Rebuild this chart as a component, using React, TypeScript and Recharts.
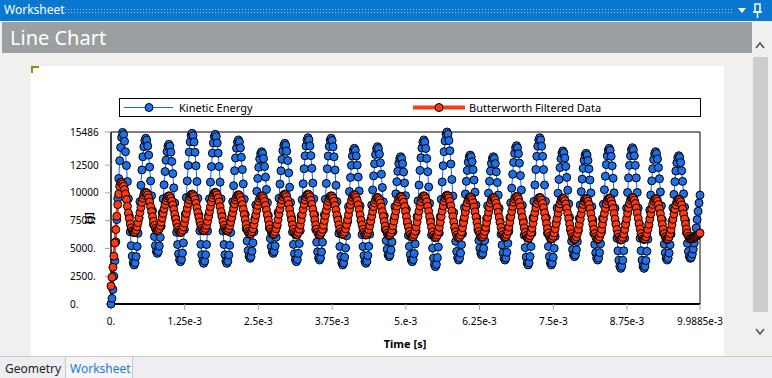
import React from "react";
import {
  LineChart,
  Line,
  XAxis,
  YAxis,
  ReferenceArea,
} from "recharts";

// samples in J, one every T_END / 610 s (rows = half cycles)
const KINETIC_ENERGY = [
  0,
  500, 1300, 2500, 3900, 5600, 7600, 9500, 11300, 12900, 14100, 15000, 15450,
  15247, 14650, 13707, 12465, 11020, 9480, 7940, 6495, 5253, 4310, 3713, 3510,
  3704, 4274, 5176, 6363, 7743, 9215, 10687, 12068, 13254, 14156, 14726, 14920,
  14744, 14226, 13407, 12330, 11076, 9740, 8404, 7150, 6073, 5254, 4736, 4560,
  4727, 5218, 5994, 7015, 8203, 9470, 10737, 11925, 12946, 13722, 14213, 14380,
  14200, 13672, 12837, 11738, 10459, 9095, 7731, 6453, 5353, 4518, 3990, 3810,
  4007, 4585, 5498, 6700, 8099, 9590, 11081, 12480, 13682, 14595, 15173, 15370,
  15171, 14585, 13660, 12443, 11026, 9515, 8004, 6588, 5370, 4445, 3859, 3660,
  3858, 4439, 5357, 6565, 7971, 9470, 10969, 12375, 13583, 14501, 15082, 15280,
  15082, 14501, 13583, 12375, 10969, 9470, 7971, 6565, 5357, 4439, 3858, 3660,
  3849, 4404, 5282, 6438, 7782, 9215, 10648, 11993, 13148, 14026, 14581, 14770,
  14589, 14056, 13214, 12105, 10815, 9440, 8065, 6775, 5666, 4824, 4291, 4110,
  4273, 4753, 5512, 6510, 7672, 8910, 10148, 11310, 12308, 13067, 13547, 13710,
  13554, 13097, 12374, 11423, 10315, 9135, 7955, 6848, 5896, 5173, 4716, 4560,
  4728, 5224, 6007, 7038, 8237, 9515, 10793, 11993, 13023, 13806, 14302, 14470,
  14289, 13756, 12914, 11805, 10515, 9140, 7765, 6475, 5366, 4524, 3991, 3810,
  4000, 4558, 5439, 6600, 7950, 9390, 10830, 12180, 13341, 14222, 14780, 14970,
  14783, 14232, 13363, 12218, 10885, 9465, 8045, 6713, 5567, 4698, 4147, 3960,
  4146, 4694, 5560, 6700, 8026, 9440, 10854, 12180, 13320, 14186, 14734, 14920,
  14726, 14156, 13254, 12068, 10687, 9215, 7743, 6363, 5176, 4274, 3704, 3510,
  3689, 4214, 5044, 6138, 7409, 8765, 10121, 11393, 12486, 13316, 13841, 14020,
  13844, 13326, 12507, 11430, 10176, 8840, 7504, 6250, 5173, 4354, 3836, 3660,
  3839, 4364, 5193, 6285, 7556, 8910, 10265, 11535, 12627, 13457, 13982, 14160,
  13992, 13497, 12715, 11685, 10487, 9210, 7933, 6735, 5705, 4923, 4428, 4260,
  4413, 4863, 5574, 6510, 7599, 8760, 9921, 11010, 11946, 12657, 13107, 13260,
  13099, 12627, 11880, 10898, 9754, 8535, 7316, 6173, 5190, 4443, 3971, 3810,
  3996, 4544, 5410, 6550, 7876, 9290, 10704, 12030, 13170, 14036, 14584, 14770,
  14576, 14006, 13104, 11918, 10537, 9065, 7593, 6213, 5026, 4124, 3554, 3360,
  3566, 4172, 5130, 6392, 7859, 9423, 10987, 12455, 13716, 14674, 15280, 15486,
  15290, 14714, 13803, 12605, 11210, 9723, 8236, 6842, 5643, 4732, 4156, 3960,
  4121, 4593, 5340, 6323, 7466, 8685, 9904, 11048, 12030, 12777, 13249, 13410,
  13257, 12807, 12096, 11160, 10071, 8910, 7749, 6660, 5724, 5013, 4563, 4410,
  4560, 5003, 5702, 6623, 7693, 8835, 9977, 11048, 11968, 12667, 13110, 13260,
  13102, 12637, 11902, 10935, 9810, 8610, 7410, 6285, 5318, 4583, 4118, 3960,
  4135, 4649, 5462, 6533, 7778, 9105, 10432, 11678, 12748, 13561, 14075, 14250,
  14067, 13530, 12682, 11565, 10265, 8880, 7495, 6195, 5078, 4230, 3693, 3510,
  3705, 4278, 5183, 6375, 7762, 9240, 10718, 12105, 13297, 14202, 14775, 14970,
  14775, 14202, 13297, 12105, 10718, 9240, 7762, 6375, 5183, 4278, 3705, 3510,
  3685, 4198, 5009, 6078, 7320, 8645, 9970, 11213, 12281, 13092, 13605, 13780,
  13618, 13142, 12390, 11400, 10248, 9020, 7792, 6640, 5650, 4898, 4422, 4260,
  4418, 4884, 5619, 6588, 7714, 8915, 10116, 11243, 12211, 12946, 13412, 13570,
  13407, 12926, 12167, 11168, 10005, 8765, 7525, 6363, 5363, 4604, 4123, 3960,
  4131, 4634, 5429, 6475, 7692, 8990, 10288, 11505, 12551, 13346, 13849, 14020,
  13836, 13296, 12442, 11318, 10009, 8615, 7221, 5913, 4788, 3934, 3394, 3210,
  3395, 3938, 4796, 5925, 7239, 8640, 10041, 11355, 12484, 13342, 13885, 14070,
  13885, 13342, 12484, 11355, 10041, 8640, 7239, 5925, 4796, 3938, 3395, 3210,
  3389, 3914, 4743, 5835, 7106, 8460, 9815, 11085, 12177, 13007, 13532, 13710,
  13544, 13057, 12287, 11273, 10093, 8835, 7577, 6398, 5384, 4613, 4126, 3960,
  4120, 4589, 5331, 6308, 7444, 8655, 9866, 11003, 11979, 12721, 13190, 13350,
  13193, 12731, 12001, 11040, 9922, 8730, 7538, 6420, 5459, 4729, 4267, 4110,
  4200, 4500, 4950, 5500, 6150, 6850, 7600, 8350, 9100, 9800,
];

const BUTTERWORTH = [
  1620,
  2400, 3300, 4300, 5500, 6700, 7900, 8950, 9900, 10600, 10960, 10950, 10800,
  10600, 10300, 9900, 9400, 8800, 8200, 7700, 7200, 6850, 6600, 6470, 6420,
  6482, 6664, 6951, 7330, 7770, 8240, 8710, 9150, 9529, 9816, 9998, 10060,
  10001, 9826, 9550, 9188, 8765, 8315, 7865, 7443, 7080, 6804, 6629, 6570,
  6624, 6783, 7034, 7365, 7750, 8160, 8570, 8955, 9286, 9537, 9696, 9750,
  9693, 9527, 9264, 8918, 8515, 8085, 7655, 7253, 6906, 6643, 6477, 6420,
  6479, 6653, 6928, 7290, 7711, 8160, 8609, 9030, 9392, 9667, 9841, 9900,
  9843, 9677, 9414, 9068, 8665, 8235, 7805, 7403, 7056, 6793, 6627, 6570,
  6629, 6804, 7080, 7443, 7865, 8315, 8765, 9188, 9550, 9826, 10001, 10060,
  10001, 9826, 9550, 9188, 8765, 8315, 7865, 7443, 7080, 6804, 6629, 6570,
  6626, 6789, 7047, 7388, 7783, 8205, 8627, 9023, 9363, 9621, 9784, 9840,
  9779, 9601, 9319, 8948, 8516, 8055, 7594, 7163, 6791, 6509, 6331, 6270,
  6329, 6503, 6778, 7140, 7561, 8010, 8459, 8880, 9242, 9517, 9691, 9750,
  9691, 9516, 9239, 8875, 8452, 8000, 7549, 7125, 6761, 6485, 6310, 6250,
  6312, 6495, 6783, 7163, 7604, 8075, 8546, 8988, 9367, 9655, 9838, 9900,
  9837, 9652, 9360, 8975, 8527, 8050, 7573, 7125, 6740, 6448, 6263, 6200,
  6263, 6448, 6740, 7125, 7573, 8050, 8527, 8975, 9360, 9652, 9837, 9900,
  9837, 9652, 9360, 8975, 8527, 8050, 7573, 7125, 6740, 6448, 6263, 6200,
  6260, 6438, 6718, 7088, 7517, 7975, 8433, 8863, 9232, 9512, 9690, 9750,
  9691, 9516, 9239, 8875, 8452, 8000, 7549, 7125, 6761, 6485, 6310, 6250,
  6311, 6491, 6774, 7148, 7582, 8045, 8508, 8943, 9316, 9599, 9779, 9840,
  9778, 9596, 9309, 8930, 8490, 8020, 7550, 7110, 6731, 6444, 6262, 6200,
  6258, 6428, 6696, 7050, 7461, 7900, 8339, 8750, 9104, 9372, 9542, 9600,
  9541, 9369, 9096, 8738, 8320, 7875, 7430, 7013, 6654, 6381, 6209, 6150,
  6210, 6388, 6668, 7038, 7467, 7925, 8383, 8813, 9182, 9462, 9640, 9700,
  9637, 9452, 9160, 8775, 8327, 7850, 7373, 6925, 6540, 6248, 6063, 6000,
  6064, 6251, 6548, 6938, 7391, 7875, 8359, 8813, 9203, 9499, 9686, 9750,
  9685, 9495, 9195, 8800, 8340, 7850, 7360, 6900, 6505, 6205, 6015, 5950,
  6015, 6208, 6512, 6913, 7378, 7875, 8372, 8838, 9238, 9542, 9735, 9800,
  9735, 9542, 9238, 8838, 8372, 7875, 7378, 6913, 6512, 6208, 6015, 5950,
  6013, 6198, 6490, 6875, 7323, 7800, 8277, 8725, 9110, 9402, 9587, 9650,
  9588, 9405, 9117, 8738, 8296, 7825, 7354, 6913, 6533, 6245, 6062, 6000,
  6061, 6241, 6526, 6900, 7336, 7800, 8264, 8700, 9074, 9359, 9539, 9600,
  9539, 9359, 9074, 8700, 8264, 7800, 7336, 6900, 6526, 6241, 6061, 6000,
  6063, 6248, 6540, 6925, 7373, 7850, 8327, 8775, 9160, 9452, 9637, 9700,
  9635, 9445, 9145, 8750, 8290, 7800, 7310, 6850, 6455, 6155, 5965, 5900,
  5963, 6148, 6440, 6825, 7273, 7750, 8227, 8675, 9060, 9352, 9537, 9600,
  9536, 9349, 9053, 8663, 8209, 7725, 7241, 6788, 6398, 6101, 5914, 5850,
  5913, 6098, 6390, 6775, 7223, 7700, 8177, 8625, 9010, 9302, 9487, 9550,
  9486, 9299, 9003, 8613, 8159, 7675, 7191, 6738, 6348, 6051, 5864, 5800,
  5863, 6048, 6340, 6725, 7173, 7650, 8127, 8575, 8960, 9252, 9437, 9500,
  9437, 9252, 8960, 8575, 8127, 7650, 7173, 6725, 6340, 6048, 5863, 5800,
  5864, 6051, 6348, 6738, 7191, 7675, 8159, 8613, 9003, 9299, 9486, 9550,
  9485, 9295, 8995, 8600, 8140, 7650, 7160, 6700, 6305, 6005, 5815, 5750,
  5815, 6008, 6312, 6713, 7178, 7675, 8172, 8638, 9038, 9342, 9535, 9600,
  9535, 9345, 9045, 8650, 8190, 7700, 7210, 6750, 6355, 6055, 5865, 5800,
  5863, 6048, 6340, 6725, 7173, 7650, 8127, 8575, 8960, 9252, 9437, 9500,
  9437, 9252, 8960, 8575, 8127, 7650, 7173, 6725, 6340, 6048, 5863, 5800,
  5862, 6045, 6333, 6713, 7154, 7625, 8096, 8538, 8917, 9205, 9388, 9450,
  9389, 9209, 8924, 8550, 8114, 7650, 7186, 6750, 6376, 6091, 5911, 5850,
  5855, 5870, 5900, 5950, 6010, 6080, 6160, 6240, 6320, 6390,
];

const T_END = 9.9885e-3;
const Y_MAX = 15486;

const X_TICKS = [0, 0.00125, 0.0025, 0.00375, 0.005, 0.00625, 0.0075, 0.00875, T_END];
const X_TICK_LABELS = ["0.", "1.25e-3", "2.5e-3", "3.75e-3", "5.e-3", "6.25e-3", "7.5e-3", "8.75e-3", "9.9885e-3"];
const Y_TICKS = [0, 2500, 5000, 7500, 10000, 12500, Y_MAX];
const Y_TICK_LABELS = ["0.", "2500.", "5000.", "7500.", "10000", "12500", "15486"];

const data = KINETIC_ENERGY.map((ke, i) => ({
  t: (i * T_END) / (KINETIC_ENERGY.length - 1),
  ke,
  bw: BUTTERWORTH[i],
}));

const FONT = '"Noto Sans", "Segoe UI", sans-serif';
const BLUE_DOT = "#1f6fe6";
const BLUE_LINE = "#1464f0";
const RED = "#ff3a12";

const XTick = (p: any) => (
  <text x={p.x} y={259} textAnchor="middle" fontSize={10} fontFamily={FONT} fill="#000">
    {X_TICK_LABELS[p.index]}
  </text>
);

const YTick = (p: any) => (
  <text x={39} y={p.y + 3.5} textAnchor="start" fontSize={10} fontFamily={FONT} fill="#000">
    {Y_TICK_LABELS[p.index]}
  </text>
);

const ChartLegend = () => (
  <div
    style={{
      position: "absolute",
      left: 119,
      top: 98,
      width: 580,
      height: 17,
      border: "1px solid #000",
      background: "#fff",
      fontFamily: FONT,
      fontSize: 11,
    }}
  >
    <svg width={580} height={17} style={{ position: "absolute", left: 0, top: 0 }}>
      <line x1={4} x2={53} y1={8.5} y2={8.5} stroke={BLUE_LINE} strokeWidth={1} />
      <circle cx={29} cy={8.5} r={4} fill={BLUE_DOT} stroke="#000" strokeWidth={1} />
      <line x1={293} x2={345} y1={8.5} y2={8.5} stroke={RED} strokeWidth={4} />
      <circle cx={319} cy={8.5} r={4} fill={RED} stroke="#000" strokeWidth={1} />
    </svg>
    <span style={{ position: "absolute", left: 59, top: 1, lineHeight: "15px" }}>Kinetic Energy</span>
    <span style={{ position: "absolute", left: 349, top: 1, lineHeight: "15px" }}>Butterworth Filtered Data</span>
  </div>
);

export default function App() {
  return (
    <div
      style={{
        position: "fixed",
        left: 0,
        top: 0,
        width: 772,
        height: 378,
        overflow: "hidden",
        background: "#f0f0f0",
        fontFamily: FONT,
      }}
    >
      {/* title bar */}
      <div style={{ position: "absolute", left: 0, top: 0, width: 772, height: 21, background: "#0a78d0" }}>
        <span style={{ position: "absolute", left: 4, top: 2, color: "#fff", fontSize: 12, lineHeight: "16px" }}>
          Worksheet
        </span>
        <div
          style={{
            position: "absolute",
            left: 64,
            top: 8,
            width: 670,
            height: 5,
            backgroundImage: "radial-gradient(rgba(255,255,255,0.55) 0.6px, transparent 0.9px)",
            backgroundSize: "3px 3px",
          }}
        />
        <svg width={30} height={21} style={{ position: "absolute", left: 736, top: 0 }}>
          <polygon points="2,8 10,8 6,13" fill="#fff" />
          <rect x={19} y={4} width={5} height={8} fill="none" stroke="#fff" strokeWidth={1.5} />
          <line x1={17} x2={26} y1={12} y2={12} stroke="#fff" strokeWidth={1.5} />
          <line x1={21.5} x2={21.5} y1={12} y2={18} stroke="#fff" strokeWidth={1.5} />
        </svg>
      </div>

      {/* header */}
      <div style={{ position: "absolute", left: 2, top: 22, width: 750, height: 31, background: "#9b9fa2" }}>
        <span style={{ position: "absolute", left: 8, top: 3, color: "#fff", fontSize: 20, lineHeight: "26px" }}>
          Line Chart
        </span>
      </div>

      {/* scrollbar */}
      <svg width={20} height={310} style={{ position: "absolute", left: 752, top: 34 }}>
        <polyline points="4,14 8,9 12,14" fill="none" stroke="#555" strokeWidth={1.6} />
        <rect x={1} y={23} width={15} height={255} fill="#cdcdcd" />
        <polyline points="4,295 8,300 12,295" fill="none" stroke="#555" strokeWidth={1.6} />
      </svg>

      {/* white panel */}
      <div style={{ position: "absolute", left: 31, top: 66, width: 693, height: 290, background: "#fff" }} />
      <div
        style={{
          position: "absolute",
          left: 31,
          top: 66,
          width: 6,
          height: 5,
          borderTop: "2px solid #8a8a10",
          borderLeft: "2px solid #8a8a10",
        }}
      />

      <div style={{ position: "absolute", left: 31, top: 66 }}>
        <LineChart
          width={692}
          height={290}
          data={data}
          margin={{ top: 66, right: 23, bottom: 22, left: 0 }}
        >
          <XAxis
            dataKey="t"
            type="number"
            domain={[0, T_END]}
            ticks={X_TICKS}
            interval={0}
            height={30}
            tick={<XTick />}
            tickSize={6}
            tickLine={{ stroke: "#a0a0a0" }}
            axisLine={{ stroke: "#000", strokeWidth: 2 }}
            label={{
              content: () => (
                <text x={374} y={282} textAnchor="middle" fontSize={11} fontWeight="bold" fontFamily={FONT}>
                  Time [s]
                </text>
              ),
            }}
          />
          <YAxis
            type="number"
            domain={[0, Y_MAX]}
            ticks={Y_TICKS}
            interval={0}
            width={80}
            tick={<YTick />}
            tickSize={6}
            tickLine={{ stroke: "#a0a0a0" }}
            axisLine={{ stroke: "#000" }}
            label={{
              content: () => (
                <text
                  x={62}
                  y={152}
                  textAnchor="middle"
                  fontSize={11}
                  fontWeight="bold"
                  fontFamily={FONT}
                  transform="rotate(-90 62 152)"
                >
                  [J]
                </text>
              ),
            }}
          />
          <ReferenceArea x1={0} x2={T_END} y1={0} y2={Y_MAX} fill="none" stroke="#000" strokeWidth={1} />
          <Line
            dataKey="ke"
            stroke={BLUE_LINE}
            strokeWidth={1}
            dot={{ r: 4, fill: BLUE_DOT, stroke: "#000", strokeWidth: 1 }}
            activeDot={false}
            isAnimationActive={false}
          />
          <Line
            dataKey="bw"
            stroke={RED}
            strokeWidth={3}
            dot={{ r: 4, fill: RED, stroke: "#000", strokeWidth: 1 }}
            activeDot={false}
            isAnimationActive={false}
          />
        </LineChart>
      </div>

      <ChartLegend />

      {/* bottom tabs */}
      <div
        style={{
          position: "absolute",
          left: 0,
          top: 356,
          width: 772,
          height: 22,
          background: "#eeeef2",
          borderTop: "1px solid #c8c8c8",
        }}
      >
        <span style={{ position: "absolute", left: 5, top: 3, fontSize: 12, color: "#1e1e1e" }}>Geometry</span>
        <div
          style={{
            position: "absolute",
            left: 65,
            top: 0,
            width: 66,
            height: 21,
            background: "#f5f5f8",
            borderLeft: "1px solid #c8c8c8",
            borderRight: "1px solid #c8c8c8",
          }}
        >
          <span style={{ position: "absolute", left: 4, top: 3, fontSize: 12, color: "#1c7ad4" }}>Worksheet</span>
        </div>
      </div>
    </div>
  );
}
